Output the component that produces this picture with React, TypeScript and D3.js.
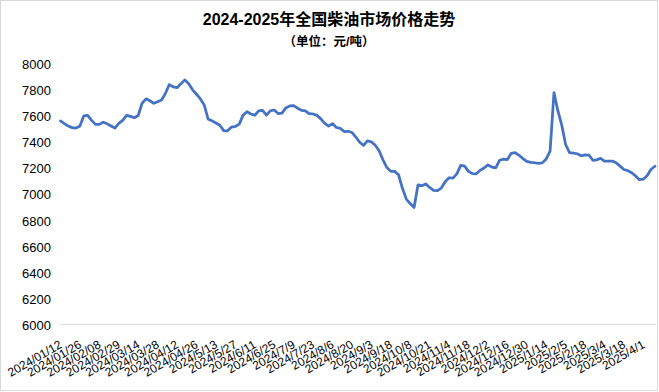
import React from "react";
import * as d3 from "d3";

const title = "2024-2025年全国柴油市场价格走势";
const subtitle = "（单位：元/吨）";

const dateLabels = [
  "2024/01/12", "2024/01/26", "2024/02/08", "2024/02/29", "2024/03/14", "2024/03/28",
  "2024/04/12", "2024/04/26", "2024/5/13", "2024/5/27", "2024/6/11", "2024/6/25",
  "2024/7/9", "2024/7/23", "2024/8/6", "2024/8/20", "2024/9/3", "2024/9/18",
  "2024/10/8", "2024/10/21", "2024/11/4", "2024/11/18", "2024/12/2", "2024/12/16",
  "2024/12/30", "2025/1/14", "2025/2/5", "2025/2/18", "2025/3/4", "2025/3/18", "2025/4/1",
];

// trading days between consecutive labels, and between consecutive sampled values
const DAYS_PER_LABEL = 10;
const DAYS_PER_VALUE = 2;

const prices = [
  7558, 7538, 7519, 7507, 7504, 7520, 7598, 7601, 7563, 7532,
  7532, 7549, 7536, 7520, 7504, 7540, 7563, 7601, 7593, 7583,
  7600, 7694, 7728, 7713, 7693, 7706, 7719, 7769, 7837, 7819,
  7813, 7844, 7873, 7843, 7797, 7763, 7727, 7680, 7572, 7559,
  7542, 7525, 7484, 7483, 7511, 7516, 7534, 7603, 7629, 7612,
  7602, 7635, 7640, 7603, 7636, 7642, 7615, 7618, 7658, 7674,
  7676, 7656, 7640, 7636, 7614, 7612, 7601, 7574, 7539, 7519,
  7538, 7508, 7501, 7477, 7479, 7470, 7435, 7395, 7371, 7405,
  7398, 7372, 7330, 7260, 7201, 7172, 7172, 7146, 7042, 6960,
  6925, 6895, 7068, 7062, 7076, 7049, 7027, 7024, 7044, 7093,
  7123, 7120, 7153, 7218, 7212, 7172, 7155, 7153, 7180, 7198,
  7222, 7205, 7199, 7257, 7266, 7262, 7310, 7316, 7295, 7270,
  7248, 7241, 7238, 7234, 7237, 7267, 7327, 7775, 7637, 7527,
  7378, 7316, 7312, 7307, 7291, 7298, 7297, 7257, 7260, 7272,
  7251, 7251, 7251, 7238, 7212, 7186, 7178, 7161, 7137, 7108,
  7112, 7141, 7188, 7211,
];

const yTicks = [6000, 6200, 6400, 6600, 6800, 7000, 7200, 7400, 7600, 7800, 8000];

const W = 659;
const H = 392;

export default function App() {
  const lastDay = (prices.length - 1) * DAYS_PER_VALUE;
  const x = d3.scaleLinear().domain([0, lastDay]).range([60.5, 655]);
  const y = d3.scaleLinear().domain([6000, 8000]).range([324.3, 63.3]);

  const line = d3
    .line<number>()
    .x((_, i) => x(i * DAYS_PER_VALUE))
    .y((d) => y(d));

  const font = "'Liberation Sans', Arial, 'Noto Sans CJK SC', sans-serif";

  return (
    <svg
      width={W}
      height={H}
      style={{ position: "absolute", left: 0, top: 0, background: "#fff" }}
      fontFamily={font}
    >
      <rect x={0} y={0} width={W} height={H} fill="#fff" />
      <rect x={0.5} y={0.5} width={657} height={390} fill="none" stroke="#d9d9d9" />
      <text x={329} y={25} textAnchor="middle" fontSize={16} fontWeight="bold" fill="#000">
        {title}
      </text>
      <text x={329} y={46} textAnchor="middle" fontSize={12.5} fontWeight="bold" fill="#000">
        {subtitle}
      </text>

      {yTicks.map((t) => (
        <text key={t} x={51} y={y(t)} dy="0.36em" textAnchor="end" fontSize={13} fill="#000"
          transform="translate(0,1)">
          {t}
        </text>
      ))}

      <line x1={60} x2={656} y1={y(6000)} y2={y(6000)} stroke="#d9d9d9" strokeWidth={1} />

      {dateLabels.map((lab, i) => {
        const cx = x(i * DAYS_PER_LABEL) - 2;
        return (
          <text
            key={lab}
            transform={`translate(${cx},339.5) rotate(-30)`}
            dy="0.72em"
            textAnchor="end"
            fontSize={12}
            fill="#000"
          >
            {lab}
          </text>
        );
      })}

      <path d={line(prices) || ""} fill="none" stroke="#4472C4" strokeWidth={2.75}
        strokeLinejoin="round" strokeLinecap="round" />
    </svg>
  );
}
